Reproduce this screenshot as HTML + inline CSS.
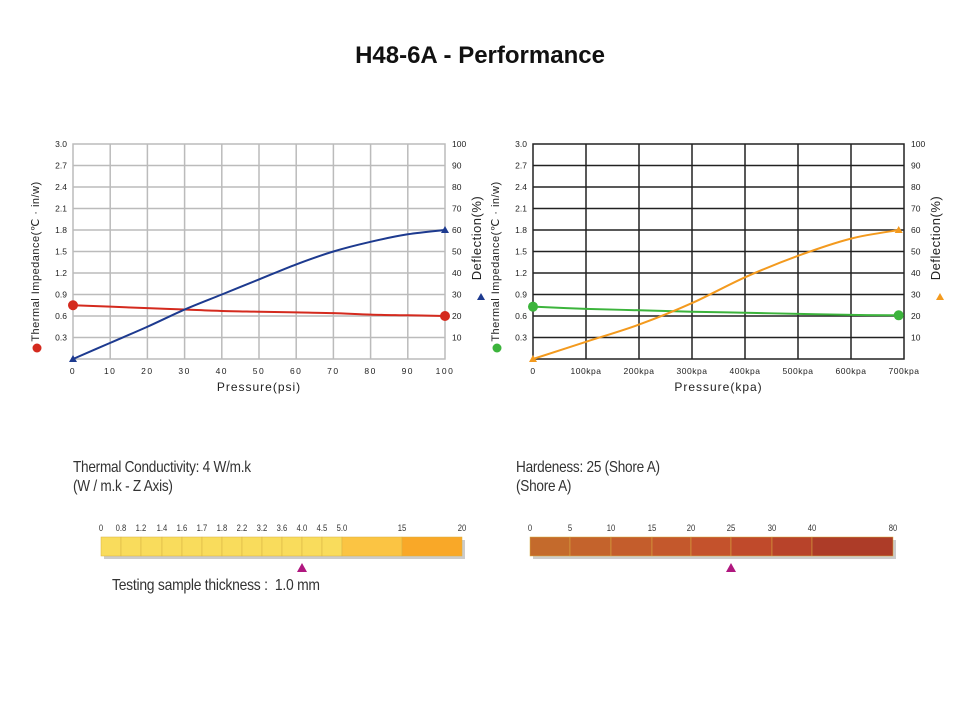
<!DOCTYPE html>
<html><head><meta charset="utf-8"><style>
body{margin:0;width:960px;height:720px;background:#fff;font-family:"Liberation Sans",sans-serif;overflow:hidden;position:relative}
.t{position:absolute;white-space:nowrap}
.n{color:#333;transform-origin:0 0;transform:scaleX(0.85);letter-spacing:-0.3px}
</style></head><body>
<div class="t" style="left:0;width:960px;text-align:center;top:42px;font-size:24px;font-weight:bold;color:#111">H48-6A - Performance</div>
<svg id="c" width="960" height="720" style="position:absolute;left:0;top:0"></svg>
<div class="t n" style="left:73px;top:458px;font-size:16px;line-height:19px">Thermal Conductivity: 4 W/m.k<br>(W / m.k - Z Axis)</div>
<div class="t n" style="left:516px;top:458px;font-size:16px;line-height:19px">Hardeness: 25 (Shore A)<br>(Shore A)</div>
<div class="t n" style="left:112px;top:577px;font-size:16px;transform:scaleX(0.87)">Testing sample thickness :&nbsp; 1.0 mm</div>
<script>
// Left chart (psi)
const psiX=[0,10,20,30,40,50,60,70,80,90,100];
const psiImpedance=[0.75,0.73,0.71,0.69,0.67,0.66,0.65,0.64,0.62,0.61,0.6];
const psiDeflection=[0,7.5,15,23,30,37,44,50,54.5,58,60];
// Right chart (kpa)
const kpaX=[0,100,200,300,400,500,600,690];
const kpaImpedance=[0.73,0.7,0.68,0.66,0.645,0.63,0.615,0.61];
const kpaDeflection=[0,8,16,26,38,48,56,60];
const leftTicks=["0.3","0.6","0.9","1.2","1.5","1.8","2.1","2.4","2.7","3.0"];
const rightTicks=["10","20","30","40","50","60","70","80","90","100"];
const psiTickLabels=["0","10","20","30","40","50","60","70","80","90","100"];
const kpaTickLabels=["0","100kpa","200kpa","300kpa","400kpa","500kpa","600kpa","700kpa"];
// Scales
const condLabels=["0","0.8","1.2","1.4","1.6","1.7","1.8","2.2","3.2","3.6","4.0","4.5","5.0","15","20"];
const hardLabels=["0","5","10","15","20","25","30","40","80"];

const svg=document.getElementById('c');const NS='http://www.w3.org/2000/svg';
function mk(tag,attrs,name,parent){const e=document.createElementNS(NS,tag);for(const k in attrs)e.setAttribute(k,attrs[k]);


(parent||svg).appendChild(e);return e;}
function txt(x,y,s,name,o){const e=mk('text',Object.assign({x:x,y:y,'font-size':8.5,fill:'#222','font-family':'Liberation Sans, sans-serif'},o||{}),name);e.textContent=s;return e;}
function smooth(pts){let d='M'+pts[0][0]+','+pts[0][1];
 for(let i=0;i<pts.length-1;i++){const p0=pts[i-1]||pts[i],p1=pts[i],p2=pts[i+1],p3=pts[i+2]||p2;
  const c1x=p1[0]+(p2[0]-p0[0])/6,c1y=p1[1]+(p2[1]-p0[1])/6,c2x=p2[0]-(p3[0]-p1[0])/6,c2y=p2[1]-(p3[1]-p1[1])/6;
  d+=` C${c1x},${c1y} ${c2x},${c2y} ${p2[0]},${p2[1]}`;}return d;}

function chart(cfg){
 const L=cfg.x0,R=cfg.x1,T=144,B=359;
 const xs=v=>L+(v-cfg.xmin)/(cfg.xmax-cfg.xmin)*(R-L);
 const yl=v=>B-v/3*(B-T);
 const yr=v=>B-v/100*(B-T);
 mk('rect',{x:L,y:T,width:R-L,height:B-T,fill:'none',stroke:cfg.grid,'stroke-width':1.5},'plot-frame');
 for(let i=1;i<10;i++){mk('line',{x1:L,x2:R,y1:B-i*(B-T)/10,y2:B-i*(B-T)/10,stroke:cfg.grid,'stroke-width':1.5},'grid-line-h');}
 cfg.gridX.forEach(v=>{mk('line',{x1:xs(v),x2:xs(v),y1:T,y2:B,stroke:cfg.grid,'stroke-width':1.5},'grid-line-v');});
 leftTicks.forEach((s,i)=>txt(L-6,yl(0.3*(i+1))+3,s,'left-tick-label',{'text-anchor':'end'}));
 rightTicks.forEach((s,i)=>txt(R+7,yr(10*(i+1))+3,s,'right-tick-label'));
 cfg.tickLabels.forEach((s,i)=>txt(xs(cfg.tickVals[i]),374,s,'x-tick-label',{'text-anchor':'middle','letter-spacing':cfg.ls}));
 txt((L+R)/2,391,cfg.xtitle,'x-axis-title',{'text-anchor':'middle','font-size':12,'letter-spacing':'1'});
 txt(0,0,'Thermal Impedance(℃ · in/w)','left-axis-title',{'text-anchor':'middle','font-size':11,transform:`translate(${L-34},${(T+B)/2+10}) rotate(-90)`,'letter-spacing':'0.5'});
 mk('circle',{cx:L-36,cy:348,r:4.5,fill:cfg.c1},'left-axis-legend-dot');
 txt(0,0,'Deflection(%)','right-axis-title',{'text-anchor':'middle','font-size':13,transform:`translate(${R+36},${238}) rotate(-90)`,'letter-spacing':'0.5'});
 mk('path',{d:`M${R+32},${300}l4,-7l4,7z`,fill:cfg.c2},'right-axis-legend-triangle');
 mk('path',{d:smooth(cfg.x.map((v,i)=>[xs(v),yl(cfg.imp[i])])),fill:'none',stroke:cfg.c1,'stroke-width':2},'impedance-line');
 mk('path',{d:smooth(cfg.x.map((v,i)=>[xs(v),yr(cfg.def[i])])),fill:'none',stroke:cfg.c2,'stroke-width':2},'deflection-line');
 [0,cfg.x.length-1].forEach(i=>{mk('circle',{cx:xs(cfg.x[i]),cy:yl(cfg.imp[i]),r:5,fill:cfg.c1},'impedance-point');
  const x=xs(cfg.x[i]),y=yr(cfg.def[i]);mk('path',{d:`M${x-4},${y+3}l4,-7l4,7z`,fill:cfg.c2},'deflection-point');});
}
chart({x0:73,x1:445,xmin:0,xmax:100,grid:'#bbb',gridX:[10,20,30,40,50,60,70,80,90],tickLabels:psiTickLabels,tickVals:psiX,x:psiX,imp:psiImpedance,def:psiDeflection,c1:'#d42a1e',c2:'#1d3a8f',xtitle:'Pressure(psi)',ls:'1.5'});
chart({x0:533,x1:904,xmin:0,xmax:700,grid:'#222',gridX:[100,200,300,400,500,600],tickLabels:kpaTickLabels,tickVals:[0,100,200,300,400,500,600,700],x:kpaX,imp:kpaImpedance,def:kpaDeflection,c1:'#3cb43c',c2:'#f39a1e',xtitle:'Pressure(kpa)',ls:'0.5'});

function scaleBar(bounds,cols,labels,y,marker,nm){
 mk('rect',{x:bounds[0]+3,y:y+3,width:bounds[bounds.length-1]-bounds[0],height:19,fill:'#ccc'},nm+'-shadow');
 for(let i=0;i<bounds.length-1;i++){mk('rect',{x:bounds[i],y:y,width:bounds[i+1]-bounds[i],height:19,fill:cols[i],stroke:'#d8b040','stroke-width':0.5},nm+'-segment');}
 labels.forEach((s,i)=>txt(bounds[i],y-6,s,nm+'-label',{'text-anchor':'middle','font-size':9,fill:'#333',transform:`translate(${bounds[i]*0.15},0) scale(0.85,1)`}));
 mk('path',{d:`M${marker-5},${y+35}l5,-9l5,9z`,fill:'#b0177f'},nm+'-marker');
}
const cb=[101,121,141,162,182,202,222,242,262,282,302,322,342,402,462];
const cc=cb.slice(0,-1).map((_,i)=>i<12?'#f9dc5c':(i==12?'#fbc443':'#f9a828'));
scaleBar(cb,cc,condLabels,537,302,'conductivity-scale');
const hb=[530,570,611,652,691,731,772,812,893];
const hc=['#c46a2c','#c4632c','#c45d2c','#c4582c','#c4522c','#c04a2b','#b8432a','#ad3c28'];
scaleBar(hb,hc,hardLabels,537,731,'hardness-scale');
</script>
</body></html>
